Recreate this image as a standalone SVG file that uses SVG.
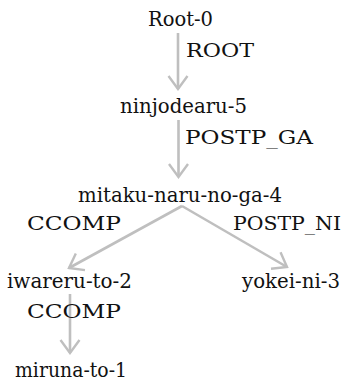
<svg xmlns="http://www.w3.org/2000/svg" width="350" height="381" viewBox="0 0 350 381">
<defs>
<marker id="arr" viewBox="0 0 16 24" refX="14" refY="12" markerWidth="16" markerHeight="24" markerUnits="userSpaceOnUse" orient="auto">
<path d="M1,2.5 L14,12 L1,21.5" fill="none" stroke="#bfbfbf" stroke-width="2.4"/>
</marker>
<style>
text{font-family:"DejaVu Serif","Liberation Serif",serif;fill:#111}
.n{font-size:19.5px}
.l{font-size:18px}
.e line{stroke:#bfbfbf;stroke-width:2.6;marker-end:url(#arr)}
</style>
</defs>
<rect width="350" height="381" fill="#fff"/>
<g class="e" id="edges">
<line x1="178" y1="33" x2="178" y2="89"/>
<line x1="178.5" y1="120" x2="178.5" y2="177"/>
<line x1="182" y1="206" x2="69" y2="268"/>
<line x1="182" y1="206" x2="287" y2="267"/>
<line x1="70" y1="294" x2="70" y2="353"/>
<text class="l" x="186" y="57" textLength="68" lengthAdjust="spacingAndGlyphs">ROOT</text>
<text class="l" x="185" y="144" textLength="128" lengthAdjust="spacingAndGlyphs">POSTP_GA</text>
<text class="l" x="27" y="230" textLength="94" lengthAdjust="spacingAndGlyphs">CCOMP</text>
<text class="l" x="233" y="230" textLength="108" lengthAdjust="spacingAndGlyphs">POSTP_NI</text>
<text class="l" x="27" y="318" textLength="94" lengthAdjust="spacingAndGlyphs">CCOMP</text>
</g>
<g id="n0"><text class="n" x="148" y="26" textLength="65" lengthAdjust="spacingAndGlyphs">Root-0</text></g>
<g id="n5"><text class="n" x="120" y="113" textLength="127" lengthAdjust="spacingAndGlyphs">ninjodearu-5</text></g>
<g id="n4"><text class="n" x="78" y="202" textLength="204" lengthAdjust="spacingAndGlyphs">mitaku-naru-no-ga-4</text></g>
<g id="n2"><text class="n" x="7" y="288" textLength="125" lengthAdjust="spacingAndGlyphs">iwareru-to-2</text></g>
<g id="n3"><text class="n" x="242" y="288" textLength="98" lengthAdjust="spacingAndGlyphs">yokei-ni-3</text></g>
<g id="n1"><text class="n" x="15" y="377" textLength="112" lengthAdjust="spacingAndGlyphs">miruna-to-1</text></g>
</svg>
